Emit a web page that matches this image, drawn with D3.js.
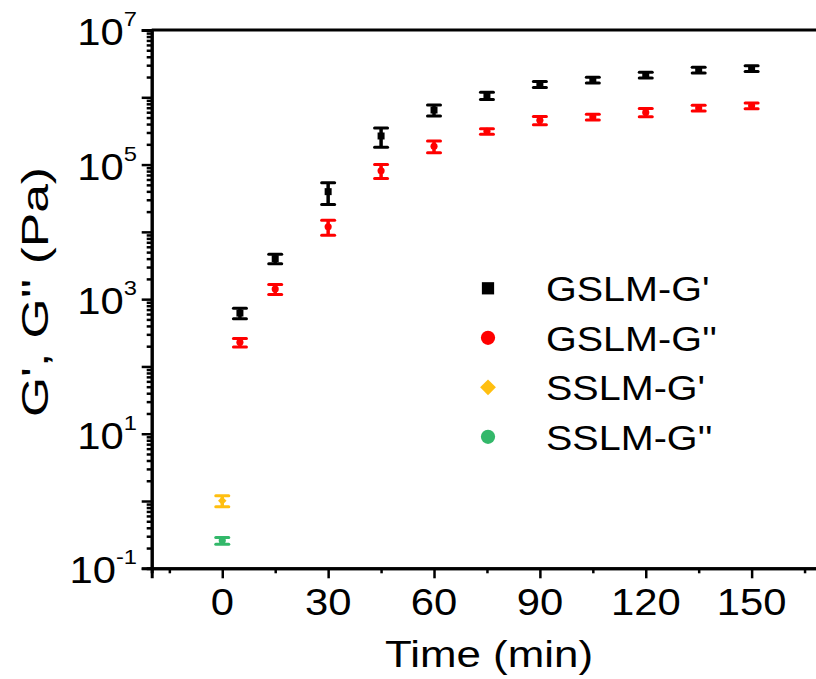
<!DOCTYPE html>
<html>
<head>
<meta charset="utf-8">
<script src="https://cdn.jsdelivr.net/npm/d3@7"></script>
<style>
  html, body { margin: 0; padding: 0; background: #fff; }
  svg { display: block; }
  text { font-family: Arial, "Liberation Sans", sans-serif; fill: #000; }
</style>
</head>
<body>
<svg id="chart" width="816" height="679"></svg>
<script>
// ---- data ----
const timesGSLM = [5, 15, 30, 45, 60, 75, 90, 105, 120, 135, 150];
const gslmGp     = [621, 4000, 39600, 266000, 647000, 1060000, 1560000, 1810000, 2150000, 2550000, 2670000];
const gslmGpErr  = [110, 650, 14000, 85000, 120000, 130000, 160000, 180000, 210000, 250000, 260000];
const gslmGpp    = [228, 1410, 11900, 81000, 187000, 312000, 454000, 508000, 596000, 692000, 748000];
const gslmGppErr = [33, 234, 3000, 19000, 37000, 30000, 63000, 50000, 83000, 69000, 75000];
const timesSSLM = [0];
const sslmGp     = [1.01];
const sslmGpErr  = [0.19];
const sslmGpp    = [0.258];
const sslmGppErr = [0.03];

const xTickValues = [0, 30, 60, 90, 120, 150];
const xMinorValues = [-15, 15, 45, 75, 105, 135, 165];
const yLabelExponents = [-1, 1, 3, 5, 7];
const seriesNames = ["GSLM-G'", "GSLM-G''", "SSLM-G'", "SSLM-G''"];
const seriesColors = ["#000000", "#ff0000", "#ffbf10", "#33b86a"];
const seriesSymbols = ["square", "circle", "diamond", "circle"];

// ---- layout ----
const svg = d3.select("#chart");
const x = d3.scaleLinear().domain([-20, 170]).range([151.7, 822.2]);
const y = d3.scaleLog().domain([0.1, 1e7]).range([568.3, 30]);
const SX = 1.13; // horizontal glyph stretch seen in reference

function sText(g, px, py, str, size, anchor) {
  return g.append("text")
    .attr("transform", `translate(${px},${py}) scale(${SX},1)`)
    .attr("text-anchor", anchor || "start")
    .style("font-size", size + "px")
    .text(str);
}

// frame lines (top and right)
svg.append("line").attr("x1", x(-20)).attr("x2", x(170)).attr("y1", y(1e7)).attr("y2", y(1e7))
  .attr("stroke", "#000").attr("stroke-width", 3);
svg.append("line").attr("x1", x(170)).attr("x2", x(170)).attr("y1", y(1e7)).attr("y2", y(0.1))
  .attr("stroke", "#000").attr("stroke-width", 3);

// x axis
const xAxisG = svg.append("g").attr("transform", `translate(0,${y(0.1)})`);
xAxisG.call(d3.axisBottom(x).tickValues(xTickValues).tickSize(10).tickFormat(""));
xAxisG.append("g").call(d3.axisBottom(x).tickValues(xMinorValues).tickSize(5).tickFormat(""));
xAxisG.selectAll(".domain").attr("stroke-width", 3);
xAxisG.selectAll("line").attr("stroke-width", 2.5);
xTickValues.forEach(v => sText(svg, x(v), 615, String(v), 37, "middle"));

// y axis
const majors = d3.range(-1, 8).map(e => Math.pow(10, e));
const minors = [];
for (let e = -1; e < 7; e++) for (let m = 2; m <= 9; m++) minors.push(m * Math.pow(10, e));
const yAxisG = svg.append("g").attr("transform", `translate(${x(-20)},0)`);
yAxisG.call(d3.axisLeft(y).tickValues(majors).tickSize(10).tickFormat(""));
yAxisG.append("g").call(d3.axisLeft(y).tickValues(minors).tickSize(5).tickFormat(""));
yAxisG.selectAll(".domain").attr("stroke-width", 3);
yAxisG.selectAll("line").attr("stroke-width", 2.5);
yLabelExponents.forEach(e => {
  const t = svg.append("text")
    .attr("transform", `translate(137,${y(Math.pow(10, e)) + 15}) scale(${SX},1)`)
    .attr("text-anchor", "end")
    .style("font-size", "37px");
  t.append("tspan").text("10");
  t.append("tspan").attr("dy", -19).style("font-size", "21px").text(String(e));
});

// axis titles
svg.append("text").attr("x", 489).attr("y", 667).attr("text-anchor", "middle")
  .attr("textLength", 208).attr("lengthAdjust", "spacingAndGlyphs")
  .style("font-size", "37px").text("Time (min)");
svg.append("text").attr("transform", "translate(48,292) rotate(-90)").attr("text-anchor", "middle")
  .attr("textLength", 250).attr("lengthAdjust", "spacingAndGlyphs")
  .style("font-size", "37px").text("G', G'' (Pa)");

// data series
const series = [
  { t: timesGSLM, v: gslmGp, e: gslmGpErr },
  { t: timesGSLM, v: gslmGpp, e: gslmGppErr },
  { t: timesSSLM, v: sslmGp, e: sslmGpErr },
  { t: timesSSLM, v: sslmGpp, e: sslmGppErr }
];
// diamond drawn as a square rotated by 45 degrees (equal width and height)
const symType = { square: d3.symbolSquare, circle: d3.symbolCircle, diamond: d3.symbolSquare };
const symRot = { square: 0, circle: 0, diamond: 45 };
const symSize = { square: 49, circle: 40, diamond: 36 };

series.forEach((s, i) => {
  const col = seriesColors[i];
  const g = svg.append("g");
  const pts = s.t.map((t, j) => ({ t, v: s.v[j], e: s.e[j] }));
  const pg = g.selectAll("g").data(pts).join("g");
  pg.append("line")
    .attr("x1", d => x(d.t)).attr("x2", d => x(d.t))
    .attr("y1", d => y(d.v + d.e)).attr("y2", d => y(d.v - d.e))
    .attr("stroke", col).attr("stroke-width", 3.5);
  [1, -1].forEach(sgn => {
    pg.append("line")
      .attr("x1", d => x(d.t) - 6.5).attr("x2", d => x(d.t) + 6.5)
      .attr("y1", d => y(d.v + sgn * d.e)).attr("y2", d => y(d.v + sgn * d.e))
      .attr("stroke", col).attr("stroke-width", 3).attr("stroke-linecap", "round");
  });
  const sym = seriesSymbols[i];
  pg.append("path")
    .attr("d", d3.symbol().type(symType[sym]).size(symSize[sym]))
    .attr("transform", d => `translate(${x(d.t)},${y(d.v)}) rotate(${symRot[sym]})`)
    .attr("fill", col);
});

// legend
const legendSizes = { square: 150, circle: 160, diamond: 125 };
seriesNames.forEach((name, i) => {
  const cy = 288.3 + i * 49.5;
  const sym = seriesSymbols[i];
  svg.append("path")
    .attr("d", d3.symbol().type(symType[sym]).size(legendSizes[sym]))
    .attr("transform", `translate(488,${cy}) rotate(${symRot[sym]})`)
    .attr("fill", seriesColors[i]);
  sText(svg, 546, cy + 13, name, 35, "start");
});
</script>
</body>
</html>
